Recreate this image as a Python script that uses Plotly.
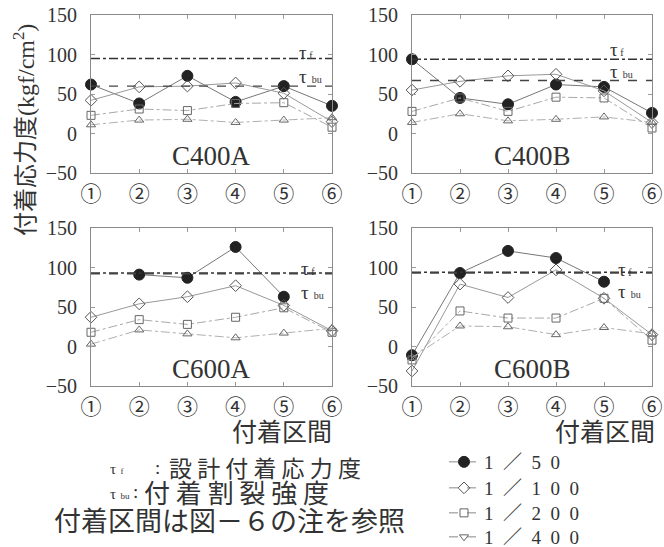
import plotly.graph_objects as go

# ---------------- data ----------------
sections = ["①", "②", "③", "④", "⑤", "⑥"]
specimens = ["C400A", "C400B", "C600A", "C600B"]
drift_labels = ["1\u2002／\u20025\u20020", "1\u2002／\u20021\u20020\u20020",
                "1\u2002／\u20022\u20020\u20020", "1\u2002／\u20024\u20020\u20020"]

c400a_50 = [62, 38, 73, 40, 60, 35]
c400a_100 = [42, 59, 60, 64, 51, 15]
c400a_200 = [23, 31, 29, 38, 39, 8]
c400a_400 = [11, 17, 18, 14, 17, 20]

c400b_50 = [94, 45, 37, 62, 59, 26]
c400b_100 = [55, 66, 73, 75, 54, 14]
c400b_200 = [28, 45, 28, 46, 45, 7]
c400b_400 = [14, 25, 16, 18, 21, 14]

c600a_50 = [None, 91, 87, 126, 63, None]
c600a_100 = [37, 54, 63, 77, 52, 20]
c600a_200 = [18, 34, 28, 37, 49, 18]
c600a_400 = [3, 21, 16, 11, 17, 23]

c600b_50 = [-11, 93, 121, 112, 82, None]
c600b_100 = [-31, 79, 62, 97, 61, 15]
c600b_200 = [-17, 45, 36, 36, 61, 8]
c600b_400 = [-14, 26, 25, 15, 24, 16]

tau_f = [95, 94, 93, 94]
tau_bu = [60, 67, 92, 93]

series_by_specimen = [
    [c400a_50, c400a_100, c400a_200, c400a_400],
    [c400b_50, c400b_100, c400b_200, c400b_400],
    [c600a_50, c600a_100, c600a_200, c600a_400],
    [c600b_50, c600b_100, c600b_200, c600b_400],
]

# ---------------- styles ----------------
W, H = 664, 547
SERIF = "Liberation Serif, DejaVu Serif, Noto Sans CJK JP"
CJK = "Noto Sans CJK JP, Liberation Serif"
INK = "#333333"

marker_styles = [
    dict(symbol="circle", size=11, color="#222222", line=dict(color="#222222", width=1)),
    dict(symbol="diamond-open", size=9, color="#555555", line=dict(color="#555555", width=1)),
    dict(symbol="square-open", size=8, color="#666666", line=dict(color="#666666", width=1)),
    dict(symbol="triangle-up-open", size=8, color="#666666", line=dict(color="#666666", width=1)),
]
legend_markers = [
    marker_styles[0], marker_styles[1], marker_styles[2],
    dict(symbol="triangle-down-open", size=8, color="#666666", line=dict(color="#666666", width=1)),
]
line_styles = [
    dict(color="#777777", width=1, dash="solid"),
    dict(color="#999999", width=1, dash="solid"),
    dict(color="#a8a8a8", width=1, dash="dashdot"),
    dict(color="#b0b0b0", width=1, dash="dashdot"),
]

def px_x(p):
    return p / W

def px_y(p):
    return 1 - p / H

x_domains = [[px_x(91), px_x(332)], [px_x(412), px_x(652)]]
y_domains = [[px_y(173), px_y(15)], [px_y(386), px_y(228)]]

# label placement (data coords within each panel)
tau_label_x = [4.28, 4.08, 4.32, 4.26]
tau_f_label_y = [102, 106, 99, 98]
tau_bu_label_y = [72, 79, 68, 70]

legend_rows_px = [462, 488, 513, 537]

fig = go.Figure()
layout_axes = {}

for i, spec in enumerate(specimens):
    row, col = divmod(i, 2)
    xa = "x" if i == 0 else f"x{i+1}"
    ya = "y" if i == 0 else f"y{i+1}"
    xkey = "xaxis" if i == 0 else f"xaxis{i+1}"
    ykey = "yaxis" if i == 0 else f"yaxis{i+1}"
    layout_axes[xkey] = dict(
        domain=x_domains[col], anchor=ya, type="category",
        categoryorder="array", categoryarray=sections, range=[0, 5],
        showline=True, mirror="allticks", linecolor="#8a8a8a", linewidth=1,
        ticks="inside", ticklen=4, tickcolor="#9a9a9a",
        showgrid=False, zeroline=False, ticklabelstandoff=2,
        tickfont=dict(family="Noto Sans CJK JP, DejaVu Sans", size=21, color=INK),
    )
    layout_axes[ykey] = dict(
        domain=y_domains[row], anchor=xa, range=[-50, 150],
        tickvals=[-50, 0, 50, 100, 150],
        showline=True, mirror="allticks", linecolor="#8a8a8a", linewidth=1,
        ticks="inside", ticklen=4, tickcolor="#9a9a9a",
        showgrid=False, zeroline=False, ticklabelstandoff=9,
        tickfont=dict(family=SERIF, size=20, color=INK),
    )
    for k, vals in enumerate(series_by_specimen[i]):
        fig.add_trace(go.Scatter(
            x=sections, y=vals, xaxis=xa, yaxis=ya,
            mode="lines+markers", cliponaxis=False, showlegend=False,
            marker=marker_styles[k], line=line_styles[k], connectgaps=False,
            name=drift_labels[k],
        ))
    # reference lines
    fig.add_shape(type="line", xref=f"{xa} domain", yref=ya, x0=0, x1=1,
                  y0=tau_f[i], y1=tau_f[i],
                  line=dict(color="#333333", width=1.4, dash="dashdot"))
    fig.add_shape(type="line", xref=f"{xa} domain", yref=ya, x0=0, x1=1,
                  y0=tau_bu[i], y1=tau_bu[i],
                  line=dict(color="#444444", width=1.4, dash="dash"))
    # tau labels
    fig.add_annotation(x=tau_label_x[i], y=tau_f_label_y[i], xref=xa, yref=ya,
                       text="τ<span style='font-size:10px'> f</span>", showarrow=False,
                       xanchor="left", yanchor="middle",
                       font=dict(family=SERIF, size=19, color=INK))
    fig.add_annotation(x=tau_label_x[i], y=tau_bu_label_y[i], xref=xa, yref=ya,
                       text="τ<span style='font-size:10px'>  bu</span>", showarrow=False,
                       xanchor="left", yanchor="middle",
                       font=dict(family=SERIF, size=19, color=INK))
    # specimen label
    fig.add_annotation(x=2.5, y=-29, xref=xa, yref=ya, text=spec, showarrow=False,
                       xanchor="center", yanchor="middle",
                       font=dict(family=SERIF, size=27, color=INK))

# legend entries (one legend box per row)
legend_layouts = {}
for k, lab in enumerate(drift_labels):
    lname = "legend" if k == 0 else f"legend{k+1}"
    fig.add_trace(go.Scatter(
        x=[None], y=[None], mode="lines+markers", name=lab,
        marker=legend_markers[k],
        line=dict(color="#888888", width=1, dash="dash"),
        showlegend=True, legend=lname,
    ))
    legend_layouts[lname] = dict(
        x=px_x(444), y=px_y(legend_rows_px[k]), xanchor="left", yanchor="middle",
        font=dict(family=SERIF, size=19, color=INK),
        bgcolor="rgba(0,0,0,0)", itemwidth=30,
    )

def note(x, y, text, size, family=CJK, xanchor="center", angle=0):
    fig.add_annotation(x=px_x(x), y=px_y(y), xref="paper", yref="paper",
                       text=text, showarrow=False, textangle=angle,
                       xanchor=xanchor, yanchor="middle",
                       font=dict(family=family, size=size, color=INK))

note(24, 130, "付着応力度(kgf/cm<sup>2</sup>)", 24, family=SERIF, angle=-90)
note(282, 430, "付着区間", 25)
note(605, 430, "付着区間", 25)
# note rows
note(108, 469, "τ<span style='font-size:9px'>  f</span>", 15, family=SERIF, xanchor="left")
note(157, 467, ":", 19, family=SERIF)
note(167, 467, "設 計 付 着 応 力 度", 23, xanchor="left")
note(108, 494, "τ<span style='font-size:9px'>  bu</span>", 15, family=SERIF, xanchor="left")
note(135, 492, ":", 19, family=SERIF)
note(142, 492, "付 着 割 裂 強 度", 26, xanchor="left")
note(52, 519, "付着区間は図－６の注を参照", 27, xanchor="left")

fig.update_layout(
    width=W, height=H,
    margin=dict(l=0, r=0, t=0, b=0, autoexpand=False),
    paper_bgcolor="white", plot_bgcolor="white",
    showlegend=True,
    **legend_layouts,
    **layout_axes,
)

fig.write_html("out.html", config={"displayModeBar": False},
               post_script="document.body.style.margin='0';")
